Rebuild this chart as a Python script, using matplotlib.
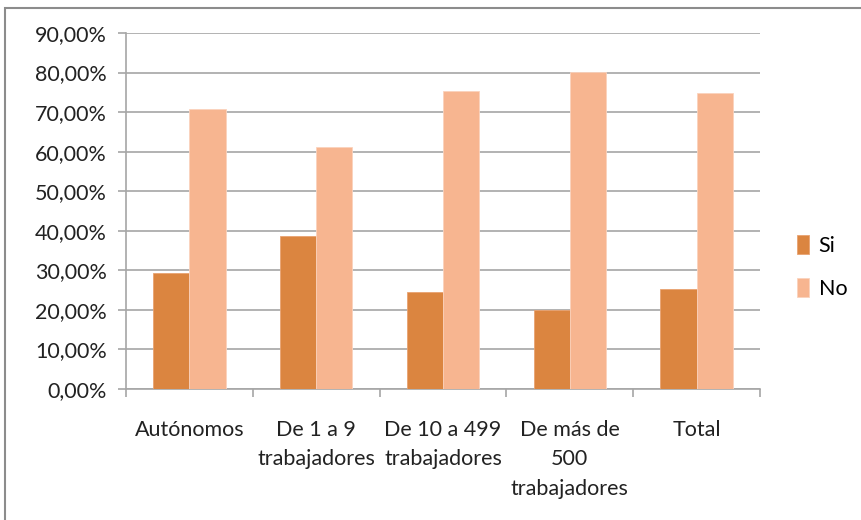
import matplotlib
matplotlib.use("Agg")
import matplotlib.pyplot as plt
import numpy as np
from matplotlib.patches import Rectangle
from matplotlib.ticker import FuncFormatter, FixedLocator

categories = ["Autónomos", "De 1 a 9\ntrabajadores", "De 10 a 499\ntrabajadores",
              "De más de\n500\ntrabajadores", "Total"]
si_values = [29.3, 38.7, 24.6, 19.9, 25.2]
no_values = [70.7, 61.3, 75.4, 80.1, 74.8]
series_names = ["Si", "No"]
y_ticks = [0, 10, 20, 30, 40, 50, 60, 70, 80, 90]

plt.rcParams['font.family'] = ['Lato', 'DejaVu Sans']

fig = plt.figure(figsize=(8.62, 5.2), dpi=100)
W, H = 862, 520
ax = fig.add_axes([126 / W, 1 - 389 / H, (760 - 126) / W, (389 - 33) / H])

# outer chart border
fig.patches.append(Rectangle((5 / W, -0.05), 1.2, 1 - 8 / H + 0.05,
                             transform=fig.transFigure, fill=False,
                             edgecolor="#8c8c8c", linewidth=1.5))

FS = 15.5
x = np.arange(len(categories))
bw = 1 / 3.5
ax.bar(x - bw / 2, si_values, bw, color="#DB8540", edgecolor="#E9A271",
       linewidth=0.6, label=series_names[0], zorder=3)
ax.bar(x + bw / 2, no_values, bw, color="#F7B590", edgecolor="#FBD3BD",
       linewidth=0.6, label=series_names[1], zorder=3)

ax.set_xlim(-0.5, len(categories) - 0.5)
ax.set_ylim(0, 90)
ax.yaxis.set_major_locator(FixedLocator(y_ticks))
ax.yaxis.set_major_formatter(FuncFormatter(lambda v, p: f"{v:.2f}%".replace(".", ",")))
ax.grid(axis="y", color="#a6a6a6", linewidth=1.2, zorder=0)
ax.set_axisbelow(True)

ax.set_xticks(np.arange(len(categories) + 1) - 0.5, minor=False)
ax.set_xticklabels([])
ax.set_xticks(x, minor=True)
ax.set_xticklabels(categories, minor=True, fontsize=FS, color="#222222",
                   linespacing=1.62, va="top")
ax.tick_params(axis="x", which="minor", length=0, pad=22)
ax.tick_params(axis="x", which="major", length=6, color="#a6a6a6", width=1.2)
ax.tick_params(axis="y", length=6, color="#a6a6a6", width=1.2, pad=8,
               labelsize=FS, labelcolor="#222222")

for s in ["top", "right"]:
    ax.spines[s].set_visible(False)
for s in ["left", "bottom"]:
    ax.spines[s].set_color("#a6a6a6")
    ax.spines[s].set_linewidth(1.2)

ax.legend(loc="center left", bbox_to_anchor=(797 / W, 1 - 267 / H), bbox_transform=fig.transFigure,
          frameon=False, fontsize=FS, handlelength=0.55, handleheight=1.0,
          handletextpad=0.45, labelspacing=1.0, borderaxespad=0, borderpad=0)

fig.savefig("out.png", dpi=100)
